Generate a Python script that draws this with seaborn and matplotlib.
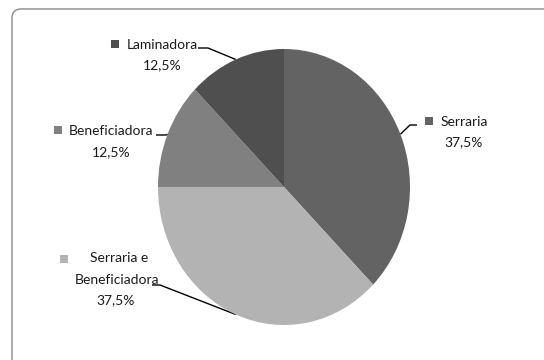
import matplotlib
matplotlib.use("Agg")
import matplotlib.pyplot as plt
from matplotlib.patches import FancyBboxPatch
import numpy as np
import seaborn as sns

# Share of companies by type of activity
categories = ["Serraria", "Serraria e\nBeneficiadora", "Beneficiadora", "Laminadora"]
shares = [37.5, 37.5, 12.5, 12.5]
value_labels = ["37,5%", "37,5%", "12,5%", "12,5%"]
colors = ["#636363", "#b3b3b3", "#808080", "#4f4f4f"]

sns.set_theme(style="white")
plt.rcParams["font.family"] = ["Lato", "DejaVu Sans"]

W, H = 544, 360
fig = plt.figure(figsize=(W / 100, H / 100), dpi=100)
fig.patch.set_facecolor("white")

# overlay in pixel coordinates for frame, labels and leader lines
ov = fig.add_axes([0, 0, 1, 1])
ov.set_xlim(0, W)
ov.set_ylim(H, 0)
ov.axis("off")

frame = FancyBboxPatch((12, 9), 560, 400, boxstyle="round,pad=0,rounding_size=9",
                       fill=False, edgecolor="#8a8a8a", linewidth=1.0, zorder=1)
ov.add_patch(frame)

# pie drawn in its own axes, slightly taller than wide
cx, cy, rx, ry = 284, 187, 126, 138
pie_ax = fig.add_axes([(cx - rx) / W, (H - cy - ry) / H, 2 * rx / W, 2 * ry / H])
wedges, _ = pie_ax.pie(shares, colors=colors, startangle=90, counterclock=False,
                       radius=1.0, wedgeprops=dict(linewidth=0))
pie_ax.set_xlim(-1, 1)
pie_ax.set_ylim(-1, 1)
pie_ax.set_aspect("auto")
pie_ax.axis("off")

# label blocks: marker square, name, value
label_pos = [
    dict(sq=(429, 121), name=(441, 122), val=(464, 142), name_ha="left",
         line=[(417, 125), (410, 125)]),
    dict(sq=(64, 259), name=(119, 258), val=(116, 300), name_ha="center",
         line=[(152, 285), (160, 285)]),
    dict(sq=(58, 130), name=(69, 131), val=(111, 152), name_ha="left",
         line=[(156, 135), (166, 135)]),
    dict(sq=(115, 44), name=(127, 45), val=(162, 65), name_ha="left",
         line=[(198, 48), (208, 48)]),
]

angle = 90.0
for share, name, val, col, lp in zip(shares, categories, value_labels, colors, label_pos):
    mid = np.deg2rad(angle - share * 3.6 / 2)
    angle -= share * 3.6
    ex, ey = cx + rx * np.cos(mid), cy - ry * np.sin(mid)
    pts = lp["line"] + [(ex, ey)]
    ov.plot([p[0] for p in pts], [p[1] for p in pts], color="black", lw=1.0,
            solid_capstyle="butt", zorder=5)
    sx, sy = lp["sq"]
    ov.add_patch(plt.Rectangle((sx - 4, sy - 4), 8, 8, facecolor=col,
                               edgecolor="none", zorder=5))
    if "\n" in name:
        first, second = name.split("\n")
        ov.text(lp["name"][0], lp["name"][1], first, ha="center", va="center",
                fontsize=10, color="#1a1a1a", zorder=6)
        ov.text(117, 280, second, ha="center", va="center",
                fontsize=10, color="#1a1a1a", zorder=6)
    else:
        ov.text(lp["name"][0], lp["name"][1], name, ha=lp["name_ha"], va="center",
                fontsize=10, color="#1a1a1a", zorder=6)
    ov.text(lp["val"][0], lp["val"][1], val, ha="center", va="center",
            fontsize=10, color="#1a1a1a", zorder=6)

fig.savefig("out.png", dpi=100, facecolor="white")
